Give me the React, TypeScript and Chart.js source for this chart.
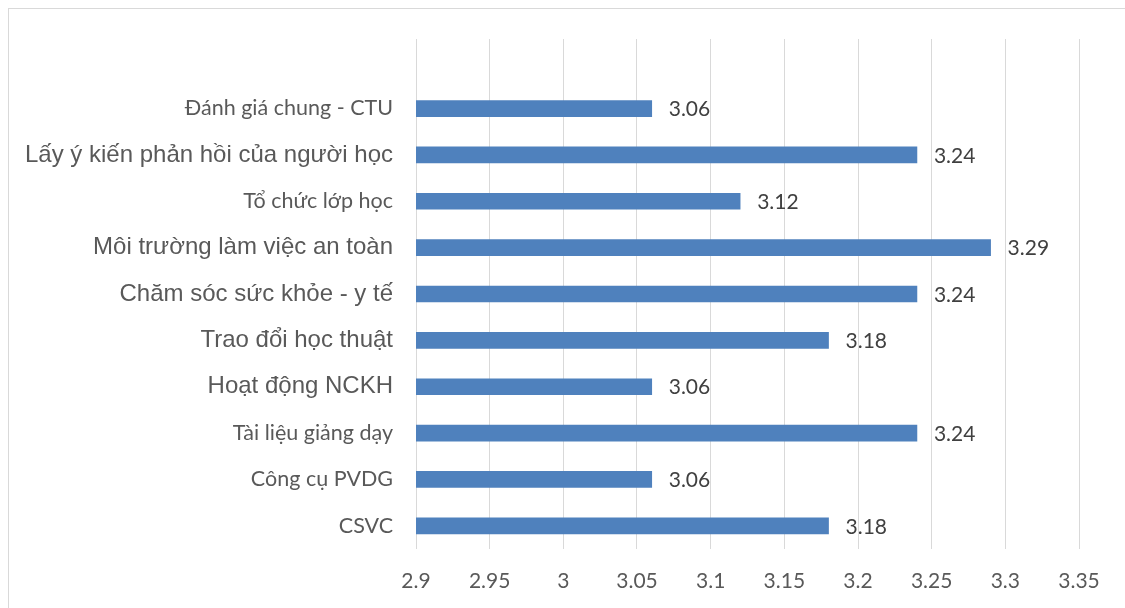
import React, { useEffect, useRef } from "react";
import { Chart, registerables } from "chart.js";

Chart.register(...registerables);

// Survey criteria, top to bottom (the first slot is left empty on purpose)
const categories = [
  "",
  "Đánh giá chung - CTU",
  "Lấy ý kiến phản hồi của người học",
  "Tổ chức lớp học",
  "Môi trường làm việc an toàn",
  "Chăm sóc sức khỏe - y tế",
  "Trao đổi học thuật",
  "Hoạt động NCKH",
  "Tài liệu giảng dạy",
  "Công cụ PVDG",
  "CSVC",
];

const scores: (number | null)[] = [null, 3.06, 3.24, 3.12, 3.29, 3.24, 3.18, 3.06, 3.24, 3.06, 3.18];

const tickLabels = ["2.9", "2.95", "3", "3.05", "3.1", "3.15", "3.2", "3.25", "3.3", "3.35"];

// Criteria whose labels are set in the Arial-style face
const arialStyled = new Set([
  "Lấy ý kiến phản hồi của người học",
  "Môi trường làm việc an toàn",
  "Chăm sóc sức khỏe - y tế",
  "Trao đổi học thuật",
  "Hoạt động NCKH",
]);

const CALIBRI_LIKE = "Lato, 'Open Sans', sans-serif";
const ARIAL_LIKE = "'Liberation Sans', Arial, sans-serif";
const TEXT_GREY = "#595959";
const BAR_BLUE = "#4F81BD";

const valueLabels = {
  id: "valueLabels",
  afterDatasetsDraw(chart: any) {
    const ctx = chart.ctx as CanvasRenderingContext2D;
    const meta = chart.getDatasetMeta(0);
    ctx.save();
    ctx.font = `21px ${CALIBRI_LIKE}`;
    ctx.fillStyle = "#404040";
    ctx.textAlign = "left";
    ctx.textBaseline = "middle";
    meta.data.forEach((bar: any, i: number) => {
      const v = scores[i];
      if (v == null) return;
      ctx.fillText(String(v), bar.x + 17, bar.y + 1);
    });
    ctx.restore();
  },
};

export default function App() {
  const canvasRef = useRef<HTMLCanvasElement | null>(null);

  useEffect(() => {
    if (!canvasRef.current) return;
    const chart = new Chart(canvasRef.current, {
      type: "bar",
      data: {
        labels: categories,
        datasets: [
          {
            data: scores,
            backgroundColor: BAR_BLUE,
            borderWidth: 0,
            barThickness: 16,
          },
        ],
      },
      options: {
        indexAxis: "y",
        animation: false,
        responsive: false,
        maintainAspectRatio: false,
        layout: { padding: { top: 39, right: 46, left: 0, bottom: 0 } },
        plugins: {
          legend: { display: false },
          tooltip: { enabled: false },
        },
        scales: {
          x: {
            type: "linear",
            min: 2.9,
            max: 3.35,
            afterBuildTicks(scale: any) {
              scale.ticks = tickLabels.map((t) => ({ value: parseFloat(t) }));
            },
            afterFit(scale: any) {
              scale.height = 59;
            },
            grid: { color: "#d9d9d9", lineWidth: 1, drawTicks: false },
            border: { display: false },
            ticks: {
              padding: 20,
              color: TEXT_GREY,
              font: { family: CALIBRI_LIKE, size: 21 },
              maxRotation: 0,
              autoSkip: false,
              callback: (_v: any, i: number) => tickLabels[i],
            },
          },
          y: {
            grid: { display: false },
            border: { display: false },
            afterFit(scale: any) {
              scale.width = 416;
            },
            ticks: {
              padding: 15,
              color: TEXT_GREY,
              autoSkip: false,
              font: (c: any) =>
                arialStyled.has(categories[c.index])
                  ? { family: ARIAL_LIKE, size: 24 }
                  : { family: CALIBRI_LIKE, size: 21.5 },
            },
          },
        },
      },
      plugins: [valueLabels],
    });
    return () => chart.destroy();
  }, []);

  return (
    <div
      style={{
        position: "fixed",
        left: 0,
        top: 0,
        width: 1125,
        height: 608,
        overflow: "hidden",
        background: "#ffffff",
      }}
    >
      <div
        style={{
          position: "absolute",
          left: 8,
          top: 8,
          width: 1200,
          height: 700,
          border: "1px solid #d9d9d9",
        }}
      />
      <canvas
        ref={canvasRef}
        width={1125}
        height={608}
        style={{ position: "absolute", left: 0, top: 0, width: 1125, height: 608 }}
      />
    </div>
  );
}
